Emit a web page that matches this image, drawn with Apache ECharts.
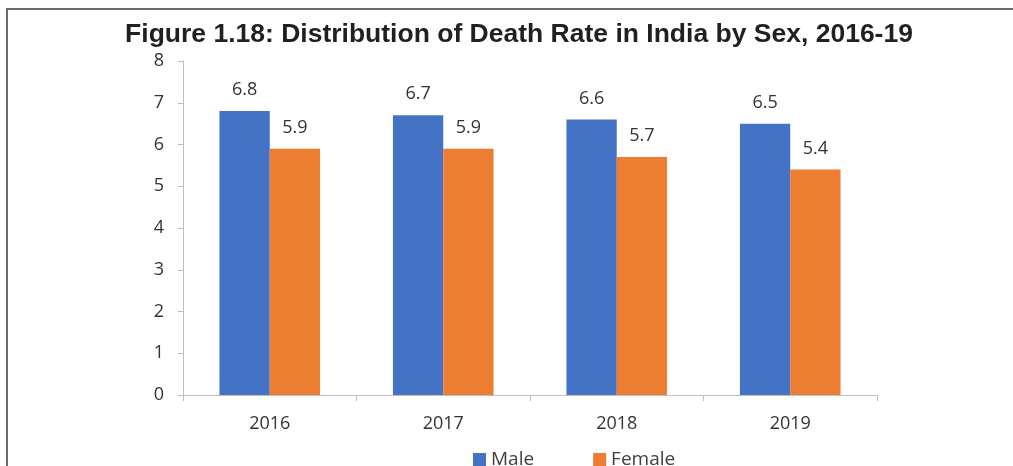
<!DOCTYPE html>
<html>
<head>
<meta charset="utf-8">
<script src="https://cdn.jsdelivr.net/npm/echarts@6/dist/echarts.min.js"></script>
<style>
html,body{margin:0;padding:0;background:#fff;}
#wrap{position:relative;width:1013px;height:466px;overflow:hidden;}
#chart{position:absolute;left:0;top:0;width:1013px;height:466px;}
#frame{position:absolute;left:6px;top:8px;width:1100px;height:600px;border-top:2px solid #6b6b6b;border-left:2px solid #6b6b6b;box-sizing:border-box;pointer-events:none;}
</style>
</head>
<body>
<div id="wrap"><div id="chart"></div><div id="frame"></div></div>
<script>
var titleText = 'Figure 1.18: Distribution of Death Rate in India by Sex, 2016-19';
var categories = ['2016', '2017', '2018', '2019'];
var maleValues = [6.8, 6.7, 6.6, 6.5];
var femaleValues = [5.9, 5.9, 5.7, 5.4];
var seriesNames = ['Male', 'Female'];

var chart = echarts.init(document.getElementById('chart'), null, {renderer: 'canvas'});
var labelFont = '"Open Sans", "Noto Sans", sans-serif';
chart.setOption({
  animation: false,
  backgroundColor: '#fff',
  title: {
    text: titleText,
    left: 514,
    textAlign: 'center',
    top: 16,
    textStyle: {fontFamily: '"Liberation Sans", Arial, sans-serif', fontWeight: 'bold', fontSize: 26.5, color: '#231f20'}
  },
  legend: {
    data: seriesNames,
    left: 468,
    top: 445,
    itemWidth: 13,
    itemHeight: 13,
    itemGap: 59,
    icon: 'rect',
    textStyle: {fontFamily: labelFont, fontSize: 19, color: '#404040'}
  },
  grid: {left: 183, right: 136, top: 61, bottom: 71, containLabel: false},
  xAxis: {
    type: 'category',
    data: categories,
    axisLine: {lineStyle: {color: '#bfbfbf', width: 1}},
    axisTick: {show: true, length: 6, lineStyle: {color: '#bfbfbf'}},
    axisLabel: {fontFamily: labelFont, fontSize: 18, color: '#333', margin: 20}
  },
  yAxis: {
    type: 'value',
    min: 0,
    max: 8,
    interval: 1,
    splitLine: {show: false},
    axisLine: {show: true, lineStyle: {color: '#bfbfbf', width: 1}},
    axisTick: {show: true, length: 5, lineStyle: {color: '#bfbfbf'}},
    axisLabel: {fontFamily: labelFont, fontSize: 18, color: '#333', margin: 19}
  },
  series: [
    {
      name: seriesNames[0],
      type: 'bar',
      data: maleValues,
      barGap: '0%',
      barCategoryGap: '42%',
      itemStyle: {color: '#4472c4'},
      label: {show: true, position: 'top', distance: 12, fontFamily: labelFont, fontSize: 18, color: '#333'}
    },
    {
      name: seriesNames[1],
      type: 'bar',
      data: femaleValues,
      barGap: '0%',
      barCategoryGap: '42%',
      itemStyle: {color: '#ed7d31'},
      label: {show: true, position: 'top', distance: 12, fontFamily: labelFont, fontSize: 18, color: '#333'}
    }
  ]
});
</script>
</body>
</html>
